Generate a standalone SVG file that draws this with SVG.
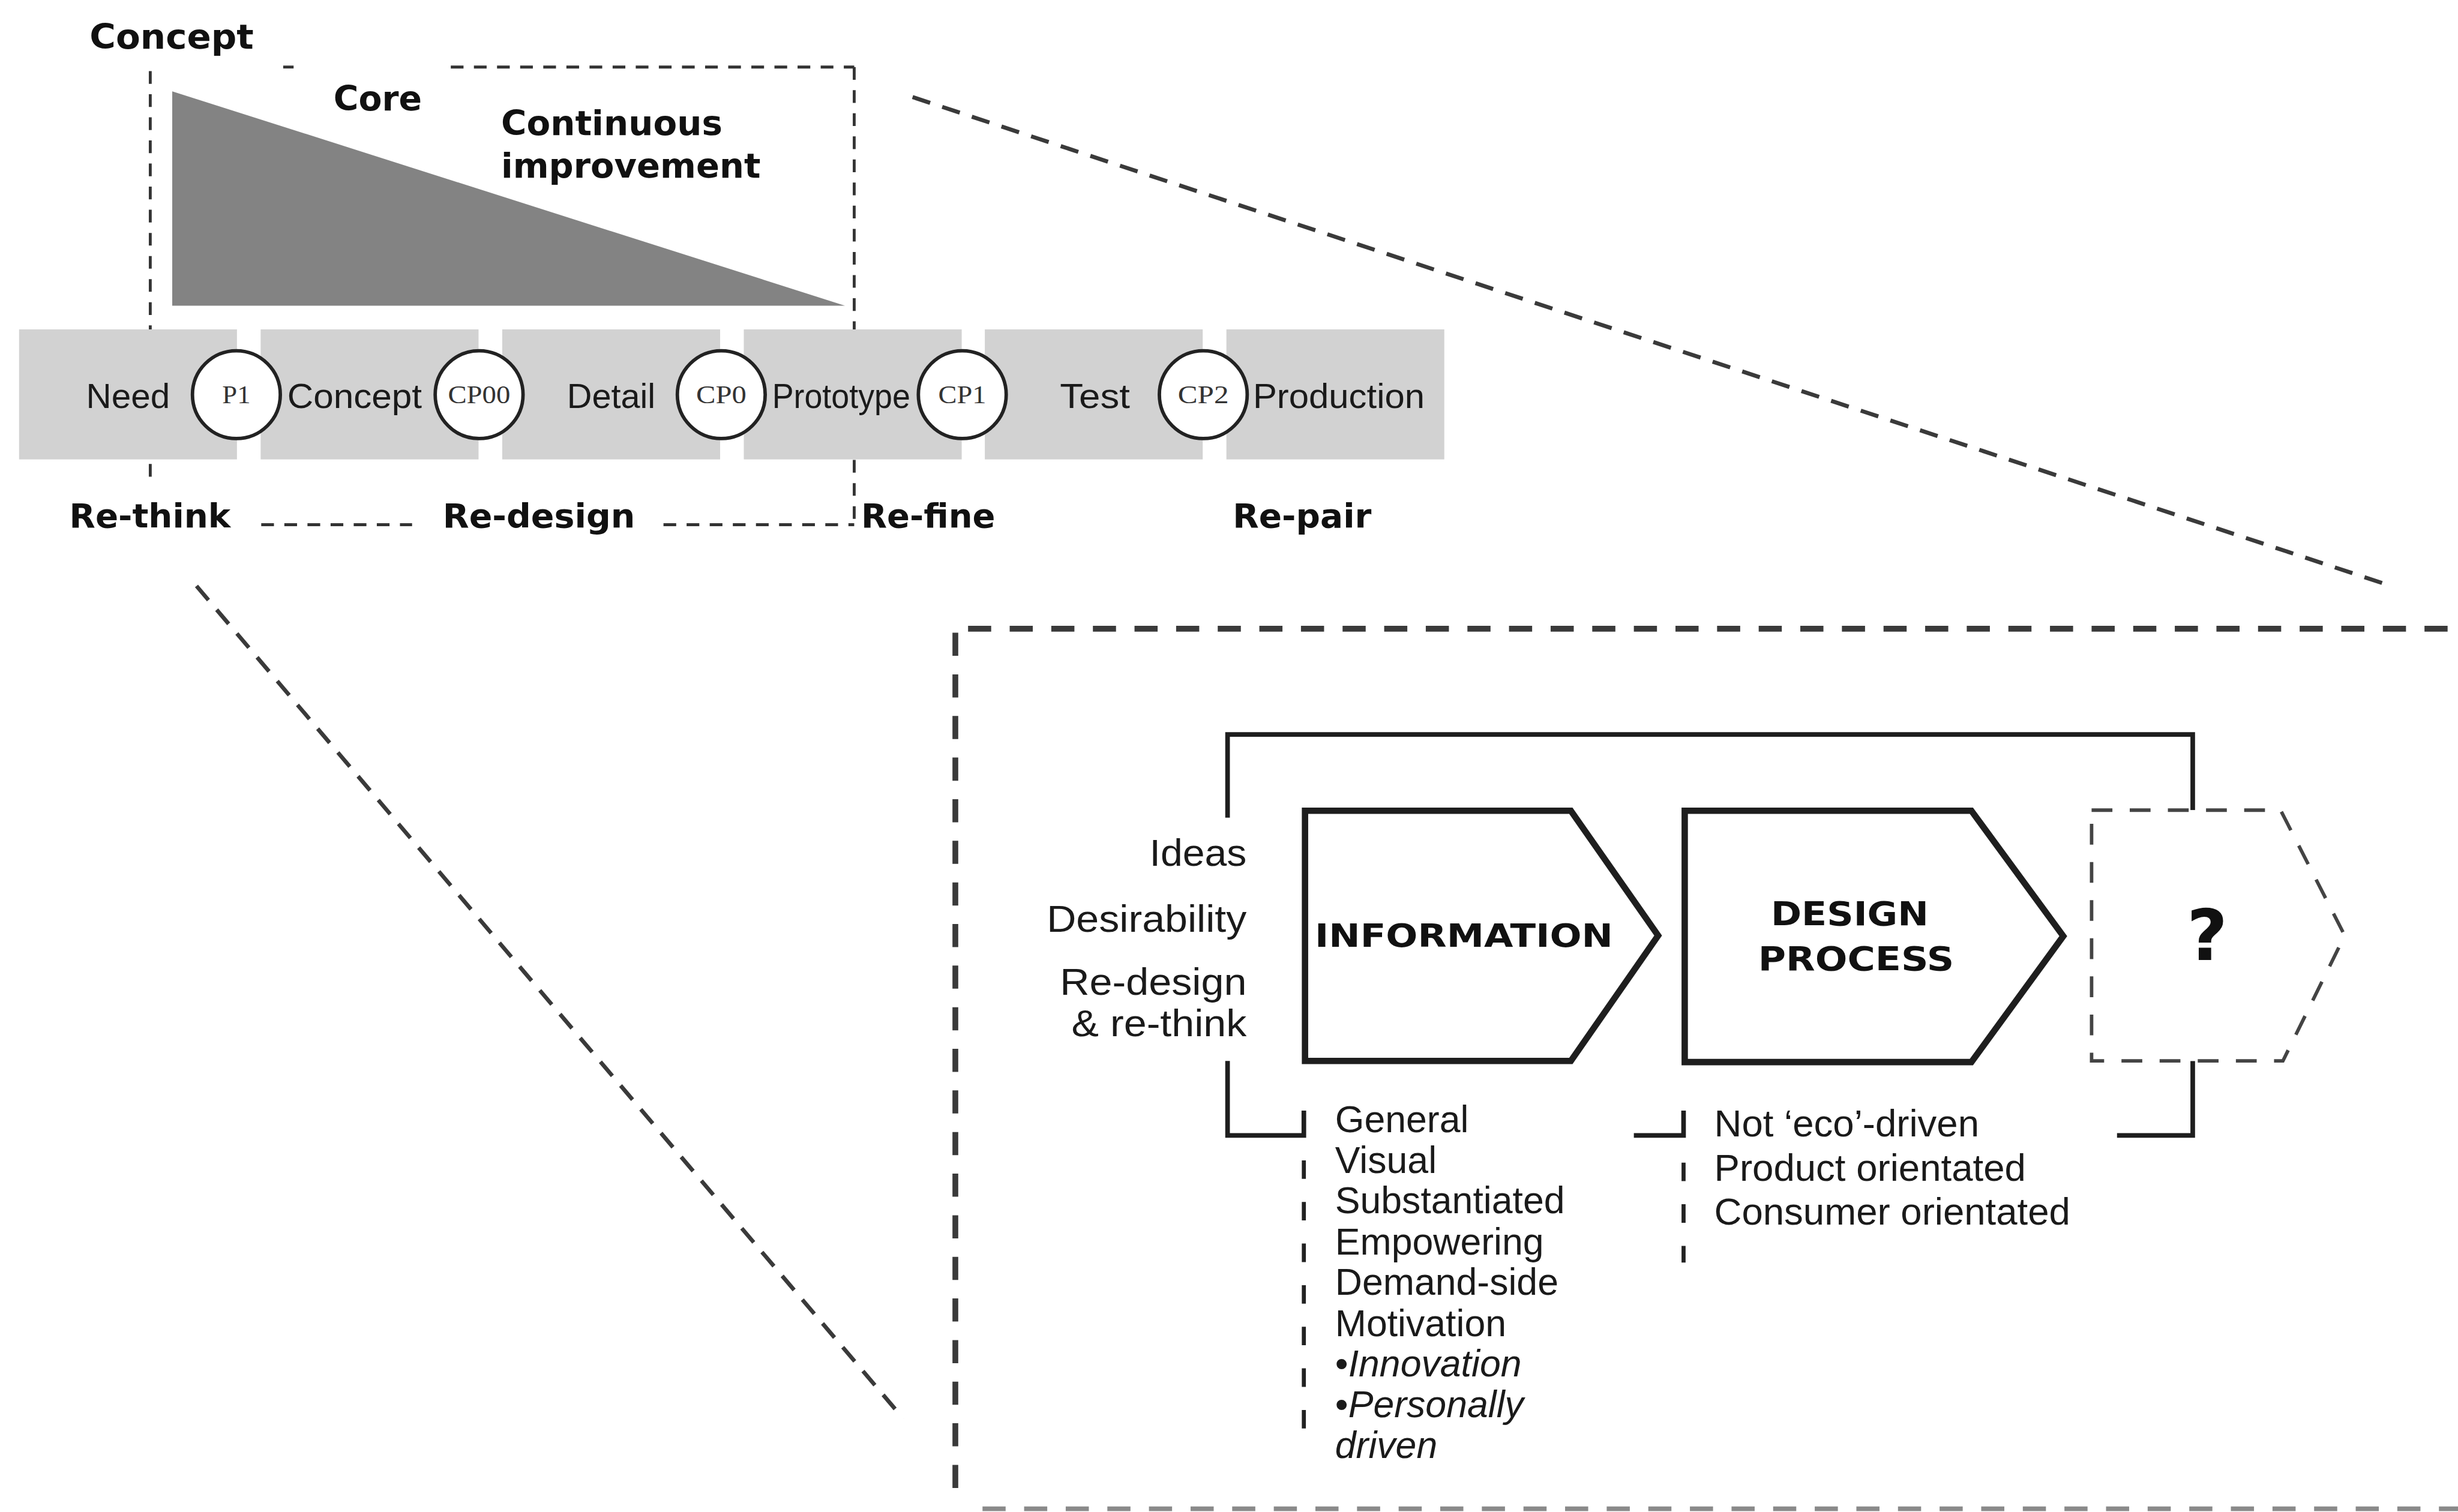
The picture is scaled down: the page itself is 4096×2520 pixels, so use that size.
<svg xmlns="http://www.w3.org/2000/svg" width="4096" height="2520" viewBox="0 0 4096 2520">
  <style>
    .b{font-family:"DejaVu Sans","Liberation Sans",sans-serif;font-weight:bold;fill:#111}
    .r{font-family:"Liberation Sans",Arial,sans-serif;fill:#1a1a1a}
    .s{font-family:"Liberation Serif","Times New Roman",serif;fill:#333;text-anchor:middle}
    .thin{fill:none;stroke:#333;stroke-width:5;stroke-dasharray:22 18}
    .big{fill:none;stroke:#3a3a3a;stroke-width:10;stroke-dasharray:40 32}
    .diag{fill:none;stroke:#3a3a3a;stroke-width:7;stroke-dasharray:32 22}
    .solid{fill:none;stroke:#1e1e1e;stroke-width:8}
    .list{fill:none;stroke:#222;stroke-width:7;stroke-dasharray:32 40}
    .stage{fill:#d2d2d2}
    .cp{fill:#fff;stroke:#222;stroke-width:6}
    .arrow{fill:#fff;stroke:#1e1e1e;stroke-width:11;stroke-linejoin:miter}
    .ghost{fill:#fff;stroke:#444;stroke-width:6;stroke-dasharray:36 30}
  </style>
  <rect width="4096" height="2520" fill="#fff"/>
  <g transform="scale(0.96309)">
    <!-- connectors: dashed frames, zoom lines and the feedback bracket -->
    <g id="connectors">
      <!-- concept frame -->
      <line class="thin" x1="260" y1="123" x2="260" y2="840"/>
      <line class="thin" x1="1478" y1="116" x2="1478" y2="913"/>
      <line class="thin" x1="490" y1="116" x2="508" y2="116"/>
      <line class="thin" x1="780" y1="116" x2="1478" y2="116"/>
      <line class="thin" x1="452" y1="908" x2="713" y2="908"/>
      <line class="thin" x1="1148" y1="908" x2="1478" y2="908"/>
      <!-- zoom lines to the detail frame -->
      <line class="diag" x1="1579" y1="168" x2="4125" y2="1010"/>
      <line class="diag" x1="340" y1="1014" x2="1563" y2="2455"/>
      <!-- detail frame -->
      <line class="big" x1="1653" y1="1095" x2="1653" y2="2595"/>
      <line class="big" x1="1675" y1="1088" x2="4253" y2="1088"/>
      <line class="big" x1="1700" y1="2611" x2="4253" y2="2611" style="stroke:#8a8a8a;stroke-width:8"/>
      <!-- feedback bracket -->
      <polyline class="solid" points="2124,1415 2124,1271 3794,1271 3794,1402"/>
      <polyline class="solid" points="2124,1836 2124,1965 2256,1965 2256,1922"/>
      <polyline class="solid" points="2827,1965 2913,1965 2913,1922"/>
      <polyline class="solid" points="3663,1965 3794,1965 3794,1836"/>
      <!-- list markers -->
      <line class="list" x1="2256" y1="2008" x2="2256" y2="2502"/>
      <line class="list" x1="2913" y1="2012" x2="2913" y2="2185"/>
    </g>

    <g id="concept-frame">
      <polygon points="298,158 298,529 1462,529" fill="#838383"/>
      <text class="b" x="155" y="84" font-size="59" textLength="284" lengthAdjust="spacingAndGlyphs">Concept</text>
      <text class="b" x="577" y="191" font-size="59" textLength="153" lengthAdjust="spacingAndGlyphs">Core</text>
      <text class="b" x="867" y="234" font-size="59" textLength="383" lengthAdjust="spacingAndGlyphs">Continuous</text>
      <text class="b" x="867" y="307" font-size="59" textLength="449" lengthAdjust="spacingAndGlyphs">improvement</text>
    </g>

    <g id="stages">
      <rect class="stage" x="33" y="570" width="377" height="225"/>
      <rect class="stage" x="451" y="570" width="377" height="225"/>
      <rect class="stage" x="869" y="570" width="377" height="225"/>
      <rect class="stage" x="1287" y="570" width="377" height="225"/>
      <rect class="stage" x="1704" y="570" width="377" height="225"/>
      <rect class="stage" x="2122" y="570" width="377" height="225"/>
      <text class="r" x="149" y="706" font-size="60" textLength="145" lengthAdjust="spacingAndGlyphs">Need</text>
      <text class="r" x="497" y="706" font-size="60" textLength="233" lengthAdjust="spacingAndGlyphs">Concept</text>
      <text class="r" x="981" y="706" font-size="60" textLength="153" lengthAdjust="spacingAndGlyphs">Detail</text>
      <text class="r" x="1336" y="706" font-size="60" textLength="239" lengthAdjust="spacingAndGlyphs">Prototype</text>
      <text class="r" x="1834" y="706" font-size="60" textLength="121" lengthAdjust="spacingAndGlyphs">Test</text>
      <text class="r" x="2168" y="706" font-size="60" textLength="297" lengthAdjust="spacingAndGlyphs">Production</text>
    </g>

    <g id="checkpoints">
      <g id="cp-p1"><circle class="cp" cx="409" cy="683" r="76"/><text class="s" x="409" y="698" font-size="44" textLength="49" lengthAdjust="spacingAndGlyphs">P1</text></g>
      <g id="cp-cp00"><circle class="cp" cx="829" cy="683" r="76"/><text class="s" x="829" y="698" font-size="44" textLength="108" lengthAdjust="spacingAndGlyphs">CP00</text></g>
      <g id="cp-cp0"><circle class="cp" cx="1248" cy="683" r="76"/><text class="s" x="1248" y="698" font-size="44" textLength="87" lengthAdjust="spacingAndGlyphs">CP0</text></g>
      <g id="cp-cp1"><circle class="cp" cx="1665" cy="683" r="76"/><text class="s" x="1665" y="698" font-size="44" textLength="83" lengthAdjust="spacingAndGlyphs">CP1</text></g>
      <g id="cp-cp2"><circle class="cp" cx="2082" cy="683" r="76"/><text class="s" x="2082" y="698" font-size="44" textLength="88" lengthAdjust="spacingAndGlyphs">CP2</text></g>
    </g>

    <g id="phases">
      <text class="b" x="120" y="913" font-size="58" textLength="279" lengthAdjust="spacingAndGlyphs">Re-think</text>
      <text class="b" x="766" y="913" font-size="58" textLength="333" lengthAdjust="spacingAndGlyphs">Re-design</text>
      <text class="b" x="1490" y="913" font-size="58" textLength="232" lengthAdjust="spacingAndGlyphs">Re-fine</text>
      <text class="b" x="2133" y="913" font-size="58" textLength="240" lengthAdjust="spacingAndGlyphs">Re-pair</text>
    </g>

    <g id="inputs" class="r" font-size="66" text-anchor="end">
      <text x="2157" y="1498" textLength="168" lengthAdjust="spacingAndGlyphs">Ideas</text>
      <text x="2157" y="1612" textLength="346" lengthAdjust="spacingAndGlyphs">Desirability</text>
      <text x="2157" y="1722" textLength="323" lengthAdjust="spacingAndGlyphs">Re-design</text>
      <text x="2157" y="1793" textLength="303" lengthAdjust="spacingAndGlyphs">&amp; re-think</text>
    </g>

    <g id="information">
      <path class="arrow" d="M2258,1403 H2718 L2869,1619 L2718,1836 H2258 Z"/>
      <text class="b" x="2275" y="1638" font-size="56" textLength="516" lengthAdjust="spacingAndGlyphs">INFORMATION</text>
    </g>

    <g id="design-process">
      <path class="arrow" d="M2915,1403 H3411 L3570,1620 L3411,1838 H2915 Z"/>
      <text class="b" x="3064" y="1601" font-size="57" textLength="273" lengthAdjust="spacingAndGlyphs">DESIGN</text>
      <text class="b" x="3042" y="1679" font-size="57" textLength="339" lengthAdjust="spacingAndGlyphs">PROCESS</text>
    </g>

    <g id="unknown-stage">
      <path class="ghost" d="M3619,1402 H3946 L4057,1619 L3950,1836 H3619 Z"/>
      <text class="b" x="3819" y="1661" font-size="122" text-anchor="middle">?</text>
    </g>

    <g id="information-qualities" class="r" font-size="65">
      <text x="2310" y="1959">General</text>
      <text x="2310" y="2030">Visual</text>
      <text x="2310" y="2100">Substantiated</text>
      <text x="2310" y="2171">Empowering</text>
      <text x="2310" y="2241">Demand-side</text>
      <text x="2310" y="2312">Motivation</text>
      <text x="2310" y="2382">•<tspan font-style="italic">Innovation</tspan></text>
      <text x="2310" y="2453">•<tspan font-style="italic">Personally</tspan></text>
      <text x="2310" y="2523" font-style="italic">driven</text>
    </g>

    <g id="design-qualities" class="r" font-size="66">
      <text x="2966" y="1967">Not ‘eco’-driven</text>
      <text x="2966" y="2043">Product orientated</text>
      <text x="2966" y="2119">Consumer orientated</text>
    </g>
  </g>
</svg>
